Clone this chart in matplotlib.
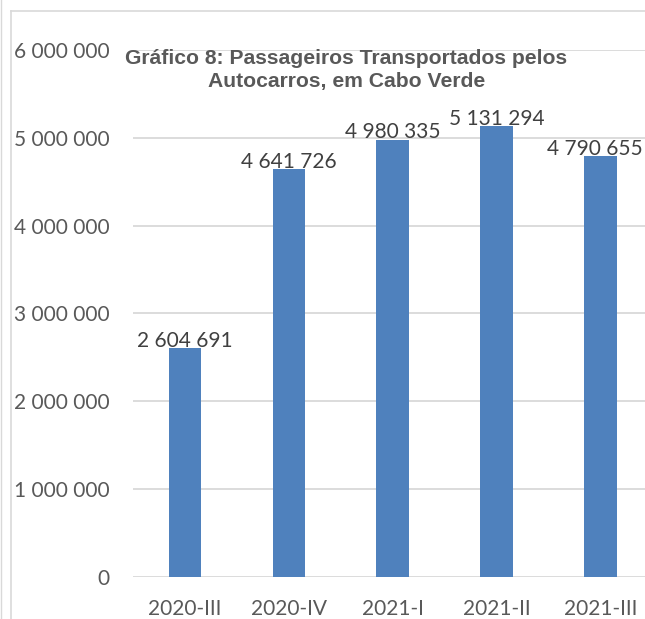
import matplotlib.pyplot as plt
from matplotlib.lines import Line2D

# dados do gráfico
trimestres = ["2020-III", "2020-IV", "2021-I", "2021-II", "2021-III"]
passageiros = [2604691, 4641726, 4980335, 5131294, 4790655]
yticks = [0, 1000000, 2000000, 3000000, 4000000, 5000000, 6000000]

W, H = 645, 619
fig = plt.figure(figsize=(W / 100, H / 100), dpi=100)

# moldura cinza clara (parte visível)
fig.add_artist(Line2D([0.5 / W, 0.5 / W], [0, 1], transform=fig.transFigure, color="#d9d9d9", lw=1))
fig.add_artist(Line2D([10.5 / W, 10.5 / W], [0, 1 - 10.5 / H], transform=fig.transFigure, color="#d9d9d9", lw=1.2))
fig.add_artist(Line2D([10.5 / W, 1], [1 - 10.5 / H, 1 - 10.5 / H], transform=fig.transFigure, color="#d9d9d9", lw=1.2))

ax = fig.add_axes([133 / W, 42 / H, 519.5 / W, 527 / H])
x = range(len(trimestres))
bars = ax.bar(x, passageiros, width=0.313, color="#4f81bd", zorder=3)

ax.set_xlim(-0.5, len(trimestres) - 0.5)
ax.set_ylim(0, 6000000)
ax.set_yticks(yticks)
ax.set_yticklabels([f"{v:,}".replace(",", " ") for v in yticks])
ax.set_xticks(list(x))
ax.set_xticklabels(trimestres)

for s in ax.spines.values():
    s.set_visible(False)
ax.yaxis.grid(True, color="#d9d9d9", lw=1.3, zorder=0)
ax.tick_params(axis="both", length=0, labelsize=15, colors="#595959")
ax.tick_params(axis="y", pad=17)
ax.tick_params(axis="x", pad=16)
for lab in ax.get_xticklabels() + ax.get_yticklabels():
    lab.set_family("Lato")

# rótulos dos valores (o último encostado à margem, como no Excel)
for i, (b, v) in enumerate(zip(bars, passageiros)):
    dx = -4 if i == len(bars) - 1 else 0
    ax.annotate(f"{v:,}".replace(",", " "), (b.get_x() + b.get_width() / 2, v),
                xytext=(dx, -2), textcoords="offset points", ha="center", va="bottom",
                fontsize=15, family="Lato", color="#404040", zorder=4)

fig.text(346.5 / W, 1 - 70 / H, "Gráfico 8: Passageiros Transportados pelos\nAutocarros, em Cabo Verde",
         ha="center", va="center", fontsize=15.2, fontweight="bold", family="Liberation Sans",
         color="#595959", linespacing=1.26)

fig.savefig("out.png", dpi=100)
